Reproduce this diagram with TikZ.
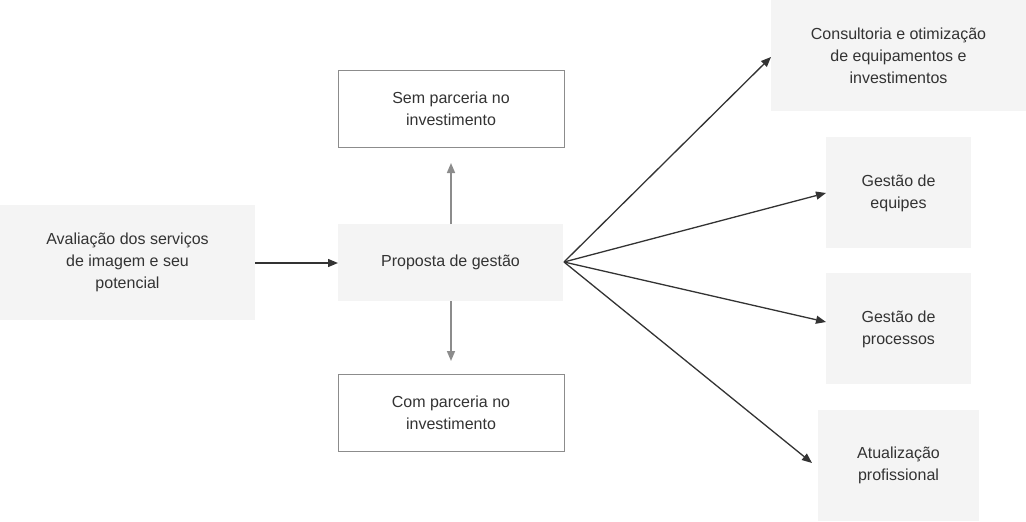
\documentclass[tikz,border=0pt]{standalone}
\usepackage{fontspec}
\setmainfont{Liberation Sans}
\usetikzlibrary{arrows.meta}
\definecolor{boxfill}{HTML}{F4F4F4}
\definecolor{txt}{HTML}{333333}
\begin{document}
\begin{tikzpicture}[x=1pt,y=-1pt,
  lbl/.style={text=txt,font=\fontsize{16}{22}\selectfont,align=center},
  fbox/.style={fill=boxfill,draw=none},
  obox/.style={fill=white,draw=black!45,line width=0.6pt},
  darr/.style={draw=black!80,line width=1.3pt,-{Triangle[length=10pt,width=8pt]}},
  garr/.style={draw=black!45,line width=1.6pt,-{Triangle[length=10pt,width=8pt]}}]
\useasboundingbox (0,0) rectangle (1026,522);
\path[fbox] (0,205) rectangle (255,320);
\node[lbl] (a) at (127.5,262.5) {Avaliação dos serviços\\de imagem e seu\\potencial};
\path[fbox] (338,224) rectangle (563,301);
\node[lbl] (p) at (450.5,262.5) {Proposta de gestão};
\path[obox] (338,70) rectangle (564,147);
\node[lbl] (s) at (451,108.5) {Sem parceria no\\investimento};
\path[obox] (338,374) rectangle (564,451);
\node[lbl] (c) at (451,412.5) {Com parceria no\\investimento};
\path[fbox] (771,0) rectangle (1026,111);
\node[lbl] (k) at (898.5,56) {Consultoria e otimização\\de equipamentos e\\investimentos};
\path[fbox] (826,137) rectangle (971,248);
\node[lbl] (e) at (898.5,193) {Gestão de\\equipes};
\path[fbox] (826,273) rectangle (971,384);
\node[lbl] (g) at (898.5,329) {Gestão de\\processos};
\path[fbox] (818,410) rectangle (979,521);
\node[lbl] (t) at (898.5,465) {Atualização\\profissional};
\coordinate (ar) at (255,263);
\coordinate (pl) at (338,263);
\coordinate (pt) at (451,224);
\coordinate (pb) at (451,301);
\coordinate (pr) at (564,262);
\coordinate (st) at (451,163);
\coordinate (cb) at (451,361);
\coordinate (k1) at (771,57);
\coordinate (e1) at (826,193);
\coordinate (g1) at (826,322);
\coordinate (t1) at (812,463);
\draw[darr] (ar) -- (pl);
\draw[garr] (pt) -- (st);
\draw[garr] (pb) -- (cb);
\draw[darr] (pr) -- (k1);
\draw[darr] (pr) -- (e1);
\draw[darr] (pr) -- (g1);
\draw[darr] (pr) -- (t1);
\end{tikzpicture}
\end{document}
